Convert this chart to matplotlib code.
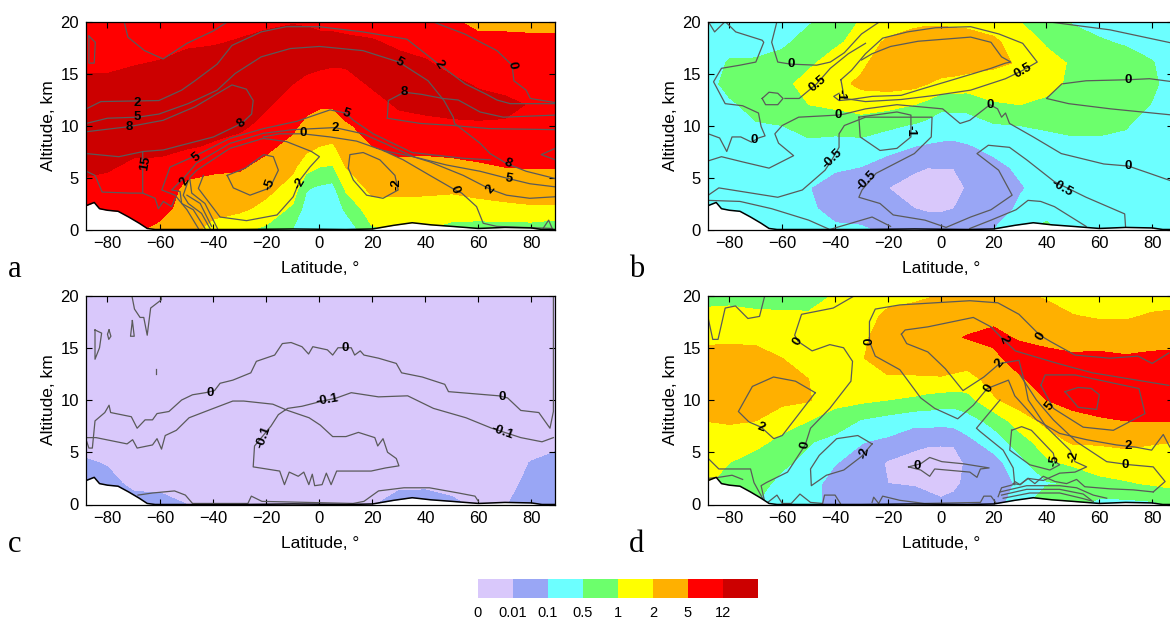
import numpy as np
import matplotlib
matplotlib.use("Agg")
import matplotlib.pyplot as plt
from matplotlib.colors import ListedColormap, BoundaryNorm

plt.rcParams['font.family'] = ['Liberation Sans', 'DejaVu Sans']

BAND_COLORS = ['#D9C8FB', '#99A6F5', '#6CFFFF', '#6CFF6C', '#FFFF00', '#FFB000', '#FF0000', '#CC0000']
BAND_LABELS = ['0', '0.01', '0.1', '0.5', '1', '2', '5', '12']
GRID_LAT = [-90, -80, -70, -60, -50, -40, -30, -20, -10, 0, 10, 20, 30, 40, 50, 60, 70, 80, 90]
FINE_LAT = [-90, -80, -70, -60, -50, -40, -30, -20, -10, -5, 0, 5, 10, 20, 30, 40, 50, 60, 70, 80, 90]
GRID_ALT = list(range(0, 22, 2))
TERRAIN_LAT = [-90, -88, -85, -83, -80, -76, -72, -68, -65, -62, -50, -30, -10, 10, 20, 28, 35, 42, 50, 60, 70, 80, 84, 90]
TERRAIN_ALT = [2.2, 2.3, 2.6, 2.0, 1.85, 1.75, 1.2, 0.6, 0.1, 0, 0, 0, 0.05, 0, 0.05, 0.4, 0.65, 0.45, 0.3, 0.1, 0.2, 0.15, 0, 0]

# ---- band fields, one list per latitude (altitude 0..20 km) ----
A_FIELD = [
    [6, 6, 6.5, 7.5, 7.6, 7.6, 7.6, 7.5, 6.5, 6.4, 6.3],
    [6.2, 6.2, 6.4, 7.2, 7.6, 7.6, 7.6, 7.3, 6.7, 6.4, 6.2],
    [6.2, 6.2, 6.3, 6.6, 7.5, 7.7, 7.6, 7.6, 6.9, 6.5, 6.3],
    [5.7, 6.4, 6.5, 6.6, 7.4, 7.7, 7.7, 7.6, 7.1, 6.4, 6.2],
    [5.3, 5.5, 5.8, 6.3, 7.1, 7.7, 7.7, 7.7, 7.4, 6.8, 6.3],
    [4.7, 5.3, 5.6, 6.2, 6.9, 7.3, 7.6, 7.7, 7.5, 6.9, 6.4],
    [4.2, 5.2, 5.6, 6.1, 6.6, 7.2, 7.6, 7.7, 7.6, 7.1, 6.6],
    [3.8, 4.7, 5.3, 5.7, 6.2, 6.7, 7.1, 7.5, 7.6, 7.3, 6.8],
    [2.95, 3.8, 4.6, 5.2, 5.7, 6.2, 6.6, 7.0, 7.5, 7.6, 6.9],
    [2.4, 2.6, 3.1, 4.4, 5.3, 5.75, 6.3, 6.75, 7.3, 7.6, 6.8],
    [2.2, 2.4, 2.85, 4.0, 5.0, 5.6, 6.1, 6.6, 7.2, 7.6, 6.5],
    [2.2, 2.3, 2.7, 3.9, 4.9, 5.5, 6.1, 6.6, 7.1, 7.5, 6.5],
    [2.3, 3.2, 4.2, 5.0, 5.45, 5.9, 6.4, 6.7, 7.1, 7.3, 6.5],
    [3.9, 4.6, 5.3, 5.6, 6.0, 6.3, 6.7, 7.1, 7.4, 7.1, 6.5],
    [4.0, 4.6, 5.3, 5.75, 6.25, 6.7, 7.1, 7.4, 7.3, 6.8, 6.4],
    [4.0, 4.6, 5.25, 5.75, 6.2, 6.7, 7.3, 7.4, 7.1, 6.6, 6.2],
    [3.7, 4.5, 5.2, 5.75, 6.3, 6.8, 7.4, 7.2, 6.7, 6.3, 6.1],
    [3.5, 4.7, 5.3, 5.9, 6.3, 6.9, 7.3, 6.9, 6.5, 6.2, 5.8],
    [3.5, 4.8, 5.4, 6.0, 6.3, 6.85, 7.3, 6.6, 6.4, 6.2, 5.8],
    [3.5, 4.9, 5.4, 6.05, 6.3, 6.6, 6.9, 6.4, 6.3, 6.15, 5.8],
    [3.2, 4.9, 5.4, 6.05, 6.3, 6.4, 6.4, 6.4, 6.3, 6.15, 5.8],
]
B_FIELD = [
    [2.4, 2.4, 2.4, 2.4, 2.4, 2.4, 2.4, 2.4, 2.4, 2.4, 2.4],
    [2.4, 2.4, 2.4, 2.4, 2.4, 2.4, 2.8, 3.4, 3.1, 2.6, 2.3],
    [2.5, 2.5, 2.5, 2.5, 2.6, 2.9, 3.4, 3.6, 3.1, 2.7, 2.5],
    [2.3, 2.3, 2.3, 2.4, 2.6, 3.0, 3.6, 3.7, 3.4, 2.8, 2.5],
    [2.2, 2.1, 2.05, 2.4, 2.8, 3.3, 4.0, 4.4, 3.8, 3.4, 2.9],
    [2.1, 1.8, 1.4, 2.2, 2.7, 3.3, 4.2, 4.7, 4.5, 3.8, 3.3],
    [2.1, 1.6, 1.3, 1.98, 2.7, 3.4, 4.5, 5.2, 4.8, 4.4, 4.1],
    [1.8, 1.3, 1.0, 1.6, 2.3, 3.2, 4.3, 5.4, 5.6, 5.2, 4.4],
    [1.6, 1.0, 0.5, 1.2, 2.0, 2.9, 4.0, 5.3, 5.7, 5.6, 4.7],
    [1.5, 0.9, 0.4, 1.02, 1.9, 2.7, 3.7, 5.0, 5.7, 5.7, 4.8],
    [1.4, 0.9, 0.4, 1.05, 1.8, 2.6, 3.2, 4.75, 5.6, 5.7, 4.8],
    [1.5, 1.0, 0.5, 1.05, 1.75, 2.65, 3.2, 4.7, 5.5, 5.7, 4.7],
    [1.6, 1.2, 1.1, 1.3, 1.9, 2.7, 3.2, 4.6, 5.4, 5.7, 4.6],
    [2.0, 1.4, 1.3, 1.7, 2.3, 2.9, 3.9, 4.5, 5.2, 5.2, 4.5],
    [2.6, 2.2, 1.9, 2.2, 2.5, 3.0, 4.0, 4.7, 4.9, 4.5, 4.0],
    [3.4, 2.4, 2.4, 2.5, 2.7, 3.1, 3.8, 4.3, 4.3, 3.9, 3.4],
    [2.4, 2.4, 2.4, 2.5, 2.8, 3.2, 3.6, 3.8, 3.9, 3.5, 2.9],
    [2.4, 2.4, 2.4, 2.5, 2.8, 3.2, 3.5, 3.5, 3.4, 3.1, 2.7],
    [2.4, 2.4, 2.4, 2.5, 2.8, 3.05, 3.5, 3.6, 3.4, 2.9, 2.5],
    [2.4, 2.4, 2.4, 2.4, 2.5, 2.7, 2.95, 3.2, 3.05, 2.7, 2.4],
    [1.9, 2.4, 2.4, 2.4, 2.4, 2.4, 2.4, 2.4, 2.4, 2.4, 2.4],
]
C_FIELD = [
    [1.5, 1.5, 1.2, .5, .5, .5, .5, .5, .5, .5, .5],
    [1.5, 1.4, .9, .5, .5, .5, .5, .5, .5, .5, .5],
    [1.5, .7, .5, .5, .5, .5, .5, .5, .5, .5, .5],
    [1.5, .6, .5, .5, .5, .5, .5, .5, .5, .5, .5],
    [1.0, .5, .5, .5, .5, .5, .5, .5, .5, .5, .5],
    [.5, .5, .5, .5, .5, .5, .5, .5, .5, .5, .5],
    [.5, .5, .5, .5, .5, .5, .5, .5, .5, .5, .5],
    [.5, .5, .5, .5, .5, .5, .5, .5, .5, .5, .5],
    [.5, .5, .5, .5, .5, .5, .5, .5, .5, .5, .5],
    [.5, .5, .5, .5, .5, .5, .5, .5, .5, .5, .5],
    [.5, .5, .5, .5, .5, .5, .5, .5, .5, .5, .5],
    [.9, .5, .5, .5, .5, .5, .5, .5, .5, .5, .5],
    [1.6, .7, .5, .5, .5, .5, .5, .5, .5, .5, .5],
    [1.7, .7, .5, .5, .5, .5, .5, .5, .5, .5, .5],
    [1.3, .5, .5, .5, .5, .5, .5, .5, .5, .5, .5],
    [.7, .5, .5, .5, .5, .5, .5, .5, .5, .5, .5],
    [.9, .5, .5, .5, .5, .5, .5, .5, .5, .5, .5],
    [1.7, 1.4, 1.05, .4, .4, .4, .4, .4, .4, .4, .4],
    [1.7, 1.6, 1.4, .7, .4, .4, .4, .4, .4, .4, .4],
]
D_FIELD = [
    [4.3, 4.3, 4.2, 4.6, 5.0, 5.4, 5.5, 5.3, 4.8, 4.3, 3.6],
    [4.3, 3.3, 4.0, 4.5, 5.1, 5.5, 5.6, 5.3, 4.85, 4.3, 3.7],
    [3.0, 3.4, 3.7, 4.2, 5.0, 5.5, 5.6, 5.3, 4.8, 4.2, 3.6],
    [2.8, 2.7, 3.2, 3.8, 4.3, 5.3, 5.4, 5.0, 4.5, 4.2, 3.5],
    [2.4, 2.4, 2.7, 3.1, 4.0, 5.1, 5.0, 4.6, 4.4, 4.1, 3.7],
    [1.6, 1.6, 2.05, 2.6, 3.7, 4.2, 4.6, 4.6, 4.5, 4.3, 4.05],
    [1.4, 1.3, 1.6, 2.05, 2.9, 4.2, 4.8, 4.95, 4.8, 4.6, 4.4],
    [1.4, 1.0, 0.9, 1.8, 2.6, 4.0, 4.9, 5.4, 5.5, 5.2, 4.7],
    [1.3, .95, .6, 1.3, 2.3, 3.8, 4.9, 5.4, 5.6, 5.4, 4.8],
    [1.3, .8, .5, 1.15, 2.4, 3.6, 4.9, 5.5, 5.7, 5.6, 4.9],
    [1.2, .6, .4, 1.15, 2.3, 3.5, 4.9, 5.6, 5.8, 5.8, 5.0],
    [1.3, .8, .5, 1.15, 2.4, 3.4, 4.8, 5.5, 5.9, 5.7, 5.0],
    [1.6, 1.2, 1.2, 1.7, 2.6, 3.6, 4.7, 5.4, 6.05, 5.6, 5.0],
    [1.7, 1.4, 1.6, 2.5, 3.3, 4.9, 5.3, 5.8, 6.2, 5.8, 5.3],
    [2.4, 2.2, 2.7, 3.5, 4.6, 5.4, 5.9, 6.4, 5.9, 5.6, 5.1],
    [4.2, 2.9, 3.8, 4.6, 5.2, 6.0, 6.4, 6.3, 5.7, 5.35, 4.9],
    [3.3, 3.1, 4.2, 5.1, 5.7, 6.3, 6.5, 6.15, 5.6, 5.05, 4.5],
    [2.7, 3.7, 4.5, 5.1, 5.9, 6.4, 6.6, 6.2, 5.6, 4.9, 4.4],
    [2.7, 3.9, 4.6, 5.2, 6.0, 6.4, 6.6, 6.1, 5.5, 4.9, 4.4],
    [2.8, 4.1, 4.7, 5.05, 6.05, 6.5, 6.6, 6.2, 5.6, 5.1, 4.6],
    [3.2, 4.3, 4.6, 5.0, 6.0, 6.4, 6.5, 6.2, 5.7, 5.2, 4.6],
]

# ---- isolines of panel a ----
A1_LAT = [42.5, 54.8, 67, 72.7, 73.4, 78, 79.6, 89]
A1_ALT = [20, 18.8, 17.2, 15.8, 14.3, 13.4, 12.6, 12.2]
A2_LAT = [-88, -82.5, -60.6, -52, -47, -38.6, -33, -22, -12.5, 0, 16.4, 33, 45, 55, 63, 67, 72, 89]
A2_ALT = [11.6, 12.3, 12.4, 13.4, 14.3, 15.9, 17.7, 19, 19.5, 19.5, 19, 18.3, 15.9, 14, 13, 12.45, 12.1, 12.1]
A3_LAT = [-88, -80, -68.6, -60.6, -49.6, -38.6, -31.8, -22, -11, 0, 16.4, 30, 41, 47, 50.5, 51, 60.6, 64.4, 70.6, 78, 89]
A3_ALT = [10.2, 10.7, 10.8, 11.1, 12.1, 13.4, 15, 16.6, 17.4, 17.6, 17.2, 16.1, 14.3, 12.4, 10.8, 10.2, 8.3, 7.3, 6.35, 5.6, 4.9]
A4_LAT = [-88, -71.6, -59, -47, -33, -27.6, -25, -25.6, -29.4, -40, -58.9, -66.5, -75.7, -88]
A4_ALT = [9.4, 9.9, 10.5, 11.8, 13.9, 13.5, 12.4, 11.1, 10.2, 8.9, 7.65, 7.5, 7, 7.3]
A5_LAT = [25.6, 26, 32, 38.4, 46.6, 52.4, 60.6, 69.4, 89]
A5_ALT = [10.7, 12.4, 13.2, 13, 12.6, 12.45, 11.3, 10.8, 11]
A6_LAT = [25.6, 38, 50.5, 64, 89]
A6_ALT = [10.7, 10.2, 10, 9.7, 9.6]
A7_LAT = [-45.7, -50, -54.5, -59.5, -56.4, -46.3, -33.8, -21.2, -8.6, 4, 9.9, 12.8, 20.3, 35, 54.3, 64.4]
A7_ALT = [0.1, 1.9, 3.3, 3.8, 6, 7.15, 8.76, 9.7, 10.4, 11.5, 11.2, 10.5, 9.2, 7.4, 6.85, 6.7]
A8_LAT = [-43.2, -47.6, -52, -52.6, -55.8, -51.4, -46.3, -33.8, -21.2, -10, 5.85, 16.5, 25.3, 35.4, 48, 60.6, 71.3, 79.4, 89]
A8_ALT = [0.1, 1.9, 2.5, 3.65, 3.8, 4.9, 6.4, 8.28, 9.25, 9.6, 9.8, 9.2, 8.2, 7, 6.2, 5.6, 4.9, 4.4, 4.1]
A9_LAT = [-41.3, -44.5, -49.5, -51.4, -49.5]
A9_ALT = [0.1, 1.55, 2.5, 3.3, 4.7]
A20_LAT = [-21.2, -15, -6.3, 4, 14, 24, 31.6, 41.7, 50.9, 53.7, 59.3, 61.8, 66.9, 88]
A20_ALT = [8.9, 9.2, 9.2, 8.9, 8.5, 7.6, 6.7, 5.2, 3.85, 3.5, 2.2, 0.6, 0.3, 0.1]
A21_LAT = [24, 35.4, 41.7, 54.3, 64.6, 70.6, 79.4, 89]
A21_ALT = [7.6, 7, 6.5, 5.2, 3.85, 3.3, 3, 3.15]
A22_LAT = [-40.7, -45, -50]
A22_ALT = [0.3, 2.5, 3.3]
A10_LAT = [-38.5, -43.2, -48.2, -49, -46.3, -33.8, -21.2, -12.4, -3, 0, -3.6, -7.4, -9.9, -16, -27.5, -37.5, -45.7, -43.8]
A10_ALT = [0.1, 2.5, 3.5, 5, 5.7, 7.8, 8.76, 8.45, 7.5, 7, 6, 4.75, 3.15, 1.4, 0.85, 1.2, 3.95, 5.2]
A12_LAT = [-34.8, -32.5, -26.2, -18.7, -15.5, -17.4, -21, -28, -34.8]
A12_ALT = [5.2, 4, 3.3, 4, 5.7, 7, 7.2, 5.9, 5.2]
A13_LAT = [10.9, 11.5, 16.5, 22.8, 28.5, 29.7, 24, 17.8, 12.8, 10.9]
A13_ALT = [5.9, 7.2, 7.4, 6.7, 5.2, 3.8, 3, 3.3, 4.75, 5.9]
A14_LAT = [-88, -84.7, -82, -71.5, -66.7, -66.7]
A14_ALT = [5.6, 5.2, 3.6, 3.5, 3.5, 7.5]
A15_LAT = [-66.7, -62, -60.8, -58.9, -55.8, -54.5]
A15_ALT = [3.5, 3, 2, 2.7, 2.2, 3]
A16_LAT = [-87, -84.6, -85, -87, -87]
A16_ALT = [18.6, 18, 16, 16, 18.6]
A17_LAT = [-73.7, -72.3, -66, -59, -50, -40, -34.5]
A17_ALT = [20, 18.5, 17.2, 16.4, 17.9, 19.1, 20]
A18_LAT = [89, 83.7, 89]
A18_ALT = [7.8, 7.2, 6.7]
A19_LAT = [84.4, 86.5, 88]
A19_ALT = [0.1, 0.9, 0]
A_LINES = [(A1_LAT, A1_ALT), (A2_LAT, A2_ALT), (A3_LAT, A3_ALT), (A4_LAT, A4_ALT), (A5_LAT, A5_ALT),
           (A6_LAT, A6_ALT), (A7_LAT, A7_ALT), (A8_LAT, A8_ALT), (A9_LAT, A9_ALT), (A10_LAT, A10_ALT),
           (A12_LAT, A12_ALT), (A13_LAT, A13_ALT), (A14_LAT, A14_ALT), (A15_LAT, A15_ALT),
           (A16_LAT, A16_ALT), (A17_LAT, A17_ALT), (A18_LAT, A18_ALT), (A19_LAT, A19_ALT),
           (A20_LAT, A20_ALT), (A21_LAT, A21_ALT), (A22_LAT, A22_ALT)]
A_LABELS = [('0', 72.7, 15.8, -80), ('2', 45, 15.9, -55), ('5', 30, 16.1, -30), ('8', 32, 13.2, 0),
            ('2', -68.6, 12.2, 0), ('5', -68.6, 10.8, 0), ('8', -71.6, 9.9, 0), ('8', -29.4, 10.2, 40),
            ('15', -65.8, 6.35, 80), ('5', -46.6, 6.9, 40), ('2', -50.7, 4.65, 60), ('5', 9.9, 11.2, -20),
            ('2', 5.85, 9.8, 0), ('0', -6.3, 9.25, 0), ('-5', -18.7, 4.37, 70), ('-2', -7.4, 4.4, 60),
            ('-2', 29.1, 4.4, 90), ('0', 50.9, 3.86, -70), ('2', 64.6, 3.86, 50), ('5', 71.3, 4.9, -10), ('8', 71, 6.36, -20)]

# ---- isolines of panel b ----
B1_LAT = [-88, -83.7, -81, -79, -75.7, -71.6, -69, -66.5, -68, -69, -75, -81.6, -86, -83, -76, -70, -67, -67.6, -77.6, -81.6]
B1_ALT = [9.2, 8.8, 7.5, 8.9, 8.9, 8.4, 8.8, 9, 9.9, 11.2, 11.9, 12.1, 14.2, 15.5, 15.8, 16.1, 18, 18.2, 19, 20]
B2_LAT = [-88, -85.6, -81.6]
B2_ALT = [20, 19, 20]
B3_LAT = [-67.6, -65, -61.7, -59.7, -61.7, -66.3, -67.6]
B3_ALT = [12.6, 13.2, 13.1, 12.6, 12, 12, 12.6]
B4_LAT = [-62, -64, -61.7, -56.8, -47, -41.8, -36.5, -30, -23]
B4_ALT = [20, 18, 16.1, 15.9, 15.8, 16.1, 17, 18.8, 20]
B5_LAT = [-59, -53.6, -47, -41.8, -35, -28.5]
B5_ALT = [12.6, 12.6, 14, 15.5, 16.9, 17.9]
B6_LAT = [-37.8, -33.8, -28.5, -22, -12.6, -2, 11.3, 22, 31, 36.5, 31, 24.5, 11.3, -2, -15, -28.5, -36.5, -37.8]
B6_ALT = [14.4, 15.3, 16.9, 18.4, 19, 19.4, 19.5, 18.8, 17.9, 16.1, 15.3, 14.5, 13.4, 12.9, 12.5, 12.3, 12.6, 14.4]
B7_LAT = [-30, -26, -19, -8.6, 11.3, 19, 23, 26.5, 24.5, 19, 4.6, -6, -15, -26, -34, -38.5, -40.5, -38.5]
B7_ALT = [16.3, 16.9, 17.6, 18.1, 18.5, 18, 16.6, 16.1, 16, 15.5, 14.4, 13.6, 12.9, 12.8, 12.5, 12.4, 12.8, 13.1]
B8_LAT = [-88, -83, -75, -65, -55.7, -61.4, -62.8, -60, -53.8, -39, -36.5, -28.5, -16.6, 0.7, 7.3, 11, 18.6, 21.5, 23, 24.5, 26, 35, 45.6, 61.7, 71, 79, 88]
B8_ALT = [6.6, 7, 6.5, 5.9, 7.1, 8.3, 9.2, 10, 10.8, 11, 11.1, 11.6, 12, 11.6, 10.2, 10.5, 12, 11.6, 10.8, 11.2, 10.2, 8.9, 7.3, 6.3, 6.1, 5.4, 4.6]
B9_LAT = [-31, -30.5, -23, -16.6, -11.3, -11.3, -16.6, -31]
B9_ALT = [10.8, 8.9, 7.6, 7.8, 8.9, 11, 11.3, 10.8]
B10_LAT = [-88, -84, -61.7, -52.4, -43.8, -41, -38.5, -38.5, -36.5, -28.5, -3.3, -3.6, -10, -24.5, -29.8, -31, -23, -18, -6, 2, 11.3, 19, 27, 21.9, 13.7, 18, 26, 32.5, 43, 55, 69.6, 70]
B10_ALT = [3.3, 4, 3.1, 3.8, 5.7, 6.8, 7.9, 9.2, 10, 10.8, 10.8, 8.9, 7.3, 5.4, 3.8, 3.1, 2.5, 1.4, 0.9, 0.2, 1.2, 1.9, 3.3, 5.7, 7.3, 8.1, 7.9, 6.7, 4.6, 3.1, 1.5, 0]
B11_LAT = [-88, -76, -64, -50, -42, -26, -19]
B11_ALT = [2.8, 2.7, 2, 0.9, 0, 1.2, 0.3]
B12_LAT = [11, 19, 28.5, 33, 37.8, 43, 55]
B12_ALT = [0.1, 0.9, 1.9, 2.8, 2.7, 2.2, 0.3]
B13_LAT = [39.8, 64, 88]
B13_ALT = [20, 19.2, 17.9]
B14_LAT = [88, 79, 71, 55, 45.8, 40, 48.4, 64.3, 88]
B14_ALT = [14.2, 14.5, 14.4, 14.3, 14, 12.6, 12.1, 11.6, 11]
B_LINES = [(B1_LAT, B1_ALT), (B2_LAT, B2_ALT), (B3_LAT, B3_ALT), (B4_LAT, B4_ALT), (B5_LAT, B5_ALT),
           (B6_LAT, B6_ALT), (B7_LAT, B7_ALT), (B8_LAT, B8_ALT), (B9_LAT, B9_ALT), (B10_LAT, B10_ALT),
           (B11_LAT, B11_ALT), (B12_LAT, B12_ALT), (B13_LAT, B13_ALT), (B14_LAT, B14_ALT)]
B_LABELS = [('0', -56.8, 15.9, 0), ('0.5', -46.5, 14, 40), ('-1', -38, 12.9, -90), ('0', -39, 11, 0),
            ('0', -70.5, 8.6, 0), ('-0.5', -41, 6.8, 45), ('-1', -11.5, 9.5, -90), ('-0.5', -28, 4.7, 45),
            ('0.5', 31, 15.3, 30), ('0', 18.6, 12, 0), ('0', 71, 14.4, 0), ('0', 71, 6.1, 0), ('-0.5', 46, 4, -30)]

# ---- isolines of panel c ----
C1_LAT = [-87.8, -87, -85.7, -84.7, -81, -79.4, -78.8, -71, -68.8, -65.8, -63, -61.3, -56.8, -52, -47.9, -43, -39.6, -37.5, -32.7, -25.9, -23.8, -16.9, -14, -10.7, -6.6, -4.1, -2.5, 3, 5, 7, 12, 13.3, 15.4, 16.8, 22.3, 29, 31, 38.8, 47.3, 48.7, 67.7, 71, 76, 82.8, 87, 88.3, 88.3]
C1_ALT = [6, 5.4, 5.4, 8, 8.8, 9.5, 8.8, 8.4, 7.3, 8.1, 8.1, 8.7, 8.9, 10, 10.5, 10.7, 10.9, 11.6, 11.9, 12.6, 13.7, 14.3, 15.4, 15.5, 15.1, 14.4, 15.1, 14.8, 14.3, 15, 15, 14.3, 14.7, 14.3, 14, 13.5, 12.6, 12.2, 11.5, 10.8, 10.4, 10.2, 9, 8.8, 7.3, 8.9, 20]
C2_LAT = [-87.8, -84.3, -72.6, -70.5, -68.8, -63, -61.3, -59.6, -58.2, -54, -49.2, -41, -32.7, -28.6, -17.6, -12, -3.9, 0.3, 5, 10, 14.7, 20.9, 22, 24, 25.7, 29, 30, 25, 19.5, 6.5, 4.4, 2.6, 1, -1.8, -2.7, -4, -5.9, -8, -11.4, -13.2, -15, -25, -24.5, -18.3, -15.5, -12, -6.6, -0.4, 6.5, 12, 22.3, 33.3, 43, 55.3, 65, 76, 84, 88.3]
C2_ALT = [6.4, 6.4, 5.8, 6.2, 5.4, 5.7, 6.3, 5.3, 6.6, 7.1, 8.3, 9.1, 9.9, 9.9, 9.6, 9, 8.3, 7.6, 6.5, 6.5, 6.9, 6.4, 5.6, 6.3, 5, 4.4, 3.7, 3.5, 3.2, 3.2, 1.9, 3, 1.9, 1.8, 2.9, 1.9, 3.1, 2.7, 3.1, 1.9, 3.2, 3.6, 5.6, 7.5, 8.6, 9.2, 9.4, 9.8, 10.2, 10.7, 10.3, 10.4, 9.2, 8.3, 7.3, 6.4, 6, 6.4]
C3_LAT = [-70.8, -69.8, -67.7, -66.3, -65, -63.7, -59.6, -59.8]
C3_ALT = [20, 18.7, 17.9, 17.9, 16.2, 18.8, 19.6, 20]
C4_LAT = [-84.7, -82.2, -83, -84.7, -84.7]
C4_ALT = [16.7, 16.4, 15, 13.9, 16.7]
C5_LAT = [-79.4, -78.7, -79.5, -80, -79.4]
C5_ALT = [16.7, 16.1, 15.8, 16.3, 16.7]
C6_LAT = [-70.6, -69.9, -71.3, -70.6]
C6_ALT = [17.6, 16.1, 16.1, 17.6]
C7_LAT = [-61.6, -61.6]
C7_ALT = [13, 12.5]
C8_LAT = [-68.5, -63, -54.7, -50.6, -47.9, -27, -25.7, -21.7, 12.7, 16.8, 22.3, 31.9, 41.5, 52.5, 58.7, 60]
C8_ALT = [0.9, 1.1, 1.3, 0.9, 0.1, 0.1, 0.8, 0.3, 0.1, 0.3, 1.3, 1.6, 1.6, 1.1, 0.8, 0.3]
C_LINES = [(C1_LAT, C1_ALT), (C2_LAT, C2_ALT), (C3_LAT, C3_ALT), (C4_LAT, C4_ALT),
           (C5_LAT, C5_ALT), (C6_LAT, C6_ALT), (C7_LAT, C7_ALT), (C8_LAT, C8_ALT)]
C_LABELS = [('0', -41.4, 10.7, 0), ('0', 9.6, 15, 0), ('0', 69, 10.3, 0), ('-0.1', 3, 10, 10),
            ('-0.1', -21, 6.4, 70), ('-0.1', 69, 6.9, -20)]

# ---- isolines of panel d ----
D1_LAT = [-66.6, -68.6, -73, -77.7, -81.6, -84.3, -86.3, -88]
D1_ALT = [20, 18, 17.8, 19, 18.8, 15.8, 15.8, 17.8]
D2_LAT = [-32.5, -40.7, -52.7, -55.3, -54, -48.7, -42, -36.8, -33.4, -34, -42, -49.3, -51.3, -58, -66, -68, -66.6]
D2_ALT = [20, 18.8, 18.2, 16.2, 15.6, 14.7, 15.3, 15, 13.7, 11.8, 9.2, 7.3, 5.7, 3.1, 2.1, 1.8, 0.2]
D3_LAT = [-27, -27, -24.8, -15.5, 11, 21.6, 29.6, 37.5, 41.5, 50.8, 64, 74.6, 80, 86.3]
D3_ALT = [15.6, 17.5, 18.7, 19.1, 19.5, 19.3, 18.2, 16.2, 15.6, 14.3, 14, 14.2, 13.5, 14.5]
D4_LAT = [-27, -24.8, -15.5, -7.6, -2.3, 6.4, 12.3, 17.6, 25.6, 28, 36.2, 45, 55.2, 66.5, 73.5, 79.8, 84.2, 86.7]
D4_ALT = [15.6, 14.2, 12.9, 10.2, 9.2, 8.2, 9.5, 11.1, 11.9, 10.4, 8.1, 6.8, 6.2, 5.7, 5.5, 5.2, 6.7, 5.5]
D5_LAT = [37.9, 39.5, 50.8, 75, 77.3, 65.3, 53.9, 42.6, 37.9]
D5_ALT = [11.4, 12.4, 12.4, 11.1, 8.7, 7.1, 7.4, 9.2, 11.4]
D6_LAT = [47, 52, 57, 60, 59, 52, 47]
D6_ALT = [10.8, 11.2, 11.1, 10.5, 9.1, 9.3, 10.8]
D7_LAT = [-14.9, -13.5, -4.9, 12.3, 19, 23.6, 28.2, 44.2, 57.4, 86.3]
D7_ALT = [16.3, 16.7, 17, 17.9, 17, 15.8, 14.7, 13.5, 12.6, 11.4]
D8_LAT = [-14.9, -12.9, -4.9, 1.7, 8.4, 16.3, 22.3, 29.6, 32, 33.1, 40, 48.9, 50.8, 55.2, 50.8, 45, 38.8, 33, 30, 27.4]
D8_ALT = [16.3, 15.4, 14.6, 13, 10.9, 12.2, 13.5, 13.8, 11.4, 10, 7.4, 5.2, 4.1, 3.6, 3.1, 3, 2.3, 2.5, 1.9, 2]
D9_LAT = [22.4, 13.5, 14.8, 23.6, 27.4, 28]
D9_ALT = [10, 7.3, 7, 5.2, 3.5, 1.9]
D10_LAT = [26.8, 30.6, 34.3, 42.6, 43.2, 45, 41.3, 33.7, 26.1, 26.8]
D10_ALT = [7.1, 7.45, 7.1, 4.9, 4.1, 3.8, 3.3, 3.8, 5.2, 7.1]
D11_LAT = [30, 36.2, 42.6, 51.4, 62.8, 71.6, 80.4, 84.9, 80.4]
D11_ALT = [12.4, 10, 8.1, 6, 4.1, 3.8, 3.6, 2.2, 1.2]
D12_LAT = [21.7, 23, 27.4, 28, 30, 33, 35.6, 38.8, 43.2, 47.6, 51.4, 54.5, 64, 72.9, 80.4]
D12_ALT = [0.75, 1.6, 1.9, 2.2, 1.9, 2.5, 2, 2.7, 2.2, 2, 2.4, 1.7, 1.5, 1.4, 1.2]
D13_LAT = [22.4, 32.5, 45, 51.4, 57.7, 62.8]
D13_ALT = [1.2, 1.8, 1.8, 1.6, 0.9, 0.6]
D14_LAT = [23, 32.5, 45, 53.9, 57]
D14_ALT = [0.9, 1.45, 1.45, 1, 0.4]
D15_LAT = [23.6, 33.7, 45, 53.3, 57.7]
D15_ALT = [0.6, 1.1, 1.1, 0.6, 0.3]
D16_LAT = [-47.5, -55, -63.3, -71.3, -76.6, -72.6, -68, -63.2, -60, -47.5]
D16_ALT = [10.7, 11.8, 12.2, 11.3, 8.9, 7.9, 7.4, 6.3, 6.6, 10.7]
D17_LAT = [-26, -31.4, -39.4, -46, -49.3, -49, -43.3, -36.7, -30, -26]
D17_ALT = [5.8, 6.6, 6.3, 4.7, 3.4, 1.8, 2.8, 3.3, 4.6, 5.8]
D18_LAT = [-12.2, -7.6, -4.2, 0.4, 8.4, 18.3, 15, 13.7, 11, -2.3, -4.2, -7.6, -12.2]
D18_ALT = [3.6, 3.9, 4.5, 4.1, 3.9, 3.5, 3.4, 2.6, 3.1, 3.4, 2.7, 3.3, 3.6]
D19_LAT = [-88, -84, -72, -70.7, -66.6]
D19_ALT = [4.4, 3.4, 3.4, 2.1, 0.2]
D20_LAT = [-88, -84, -79, -75]
D20_ALT = [2.5, 2.6, 2.8, 2.4]
D21_LAT = [-66, -62, -60, -56.6, -53.3, -49.3, -44.7, -44, -40, -38]
D21_ALT = [0.1, 0.9, 0.1, 0.1, 1, 0.2, 0.1, 0.9, 0.9, 0.1]
D22_LAT = [-26, -25.4, -23.5, -22, -15.5, -6.2, 15, 16.3, 19, 21]
D22_ALT = [0.2, 0.7, 0.1, 0.8, 0.4, 0.1, 0.2, 0.8, 0.8, 0.1]
D_LINES = [(D1_LAT, D1_ALT), (D2_LAT, D2_ALT), (D3_LAT, D3_ALT), (D4_LAT, D4_ALT), (D5_LAT, D5_ALT),
           (D6_LAT, D6_ALT), (D7_LAT, D7_ALT), (D8_LAT, D8_ALT), (D9_LAT, D9_ALT), (D10_LAT, D10_ALT),
           (D11_LAT, D11_ALT), (D12_LAT, D12_ALT), (D13_LAT, D13_ALT), (D14_LAT, D14_ALT), (D15_LAT, D15_ALT),
           (D16_LAT, D16_ALT), (D17_LAT, D17_ALT), (D18_LAT, D18_ALT), (D19_LAT, D19_ALT), (D20_LAT, D20_ALT),
           (D21_LAT, D21_ALT), (D22_LAT, D22_ALT)]
D_LABELS = [('0', -54, 15.6, 60), ('0', -27, 15.6, 90), ('2', 23.6, 15.8, -70), ('0', 38, 16.1, 60),
            ('2', 22.3, 13.5, 50), ('0', 18, 11.1, 60), ('5', 41.3, 9.4, 50), ('2', -68, 7.4, -20),
            ('0', -51.3, 5.7, 80), ('-2', -28.8, 5, 80), ('0', -9, 3.7, 0), ('-5', 43, 4.2, 80),
            ('-2', 50.1, 4.6, 80), ('2', 71, 5.6, 0), ('0', 69.7, 3.8, 0)]

FIG_W, FIG_H = 1170, 619
PANELS = [
    ('a', (86, 555, 21.5, 229.5), (-88.1, 88.9), FINE_LAT, A_FIELD, A_LINES, A_LABELS, (8, 270)),
    ('b', (708, 1173.3, 21.5, 229.5), (-88.1, 88.0), FINE_LAT, B_FIELD, B_LINES, B_LABELS, (629, 270)),
    ('c', (86, 555, 295.5, 504.5), (-88.1, 88.9), GRID_LAT, C_FIELD, C_LINES, C_LABELS, (8, 545)),
    ('d', (708, 1173.3, 295.5, 504.5), (-88.1, 88.0), FINE_LAT, D_FIELD, D_LINES, D_LABELS, (629, 545)),
]

fig = plt.figure(figsize=(FIG_W / 100, FIG_H / 100), dpi=100)
cmap = ListedColormap(BAND_COLORS)
levels = list(range(len(BAND_COLORS) + 1))
norm = BoundaryNorm(levels, cmap.N)

for letter, (x0, x1, y0, y1), xlim, field_lat, field, lines, labels, letter_xy in PANELS:
    ax = fig.add_axes([x0 / FIG_W, 1 - y1 / FIG_H, (x1 - x0) / FIG_W, (y1 - y0) / FIG_H])
    z = np.array(field).T
    ax.contourf(field_lat, GRID_ALT, z, levels=levels, cmap=cmap, norm=norm)
    for lat, alt in lines:
        ax.plot(lat, alt, color='#5a5a5a', lw=0.9, solid_joinstyle='round', zorder=3)
    ax.fill_between(TERRAIN_LAT, TERRAIN_ALT, -1, color='white', zorder=4, lw=0)
    ax.plot(TERRAIN_LAT, TERRAIN_ALT, color='black', lw=1.1, zorder=5)
    for text, lat, alt, rot in labels:
        ax.text(lat, alt, text, fontsize=9.5, fontweight='bold', color='black', rotation=rot,
                ha='center', va='center', zorder=6, clip_on=True)
    ax.set_xlim(*xlim)
    ax.set_ylim(0, 20)
    ax.set_xticks(range(-80, 100, 20))
    ax.set_yticks(range(0, 25, 5))
    ax.tick_params(direction='in', top=True, right=True, length=4, width=0.8,
                   labelsize=12, pad=5, zorder=7)
    ax.set_xlabel('Latitude, °', fontsize=12.5, labelpad=7)
    ax.set_ylabel('Altitude, km', fontsize=12.5, labelpad=3)
    for sp in ax.spines.values():
        sp.set_linewidth(0.9)
        sp.set_zorder(8)
    fig.text(letter_xy[0] / FIG_W, 1 - letter_xy[1] / FIG_H, letter, fontsize=22,
             family=['Liberation Serif'], ha='left', va='center')

cax = fig.add_axes([478 / FIG_W, 1 - 598 / FIG_H, 280 / FIG_W, 19 / FIG_H])
cax.pcolormesh(range(len(BAND_COLORS) + 1), [0, 1], [list(range(len(BAND_COLORS)))], cmap=cmap,
               vmin=-0.5, vmax=len(BAND_COLORS) - 0.5)
cax.set_xticks(range(len(BAND_LABELS)))
cax.set_xticklabels(BAND_LABELS, fontsize=10.5)
cax.set_yticks([])
cax.tick_params(length=0, pad=6)
for sp in cax.spines.values():
    sp.set_visible(False)

fig.savefig('out.png', dpi=100)
